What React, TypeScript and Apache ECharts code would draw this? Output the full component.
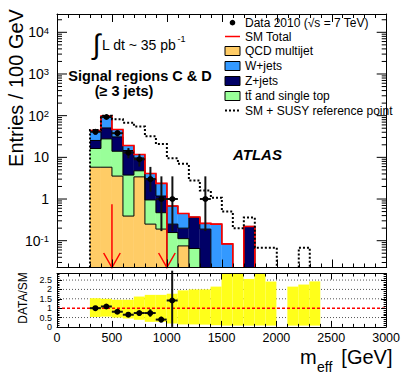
import React, { useEffect, useRef } from "react";
import * as echarts from "echarts";

// ---------------- data ----------------
const BIN_WIDTH = 100; // GeV
const SM_BIN_LO = [300, 400, 500, 600, 700, 800, 900, 1000, 1100, 1200, 1300, 1400, 1500, 1600, 1700];
const QCD_MULTIJET = [5.8, 5.8, 3.55, 0.39, 3.4, 0.25, 0.19, 0, 0.075, 0, 0, 0, 0, 0, 0];
const TTBAR_SINGLE_TOP = [10.5, 21.9, 10.45, 3.36, 1.35, 0.7, 0.28, 0.157, 0.037, 0.065, 0, 0, 0, 0, 0];
const Z_JETS = [9.1, 23.1, 17, 10.85, 4.95, 2.11, 0.71, 0.093, 0.088, 0.295, 0.19, 0, 0, 0, 0.22];
const W_JETS = [18.6, 47.2, 15.5, 4.6, 2.0, 1.04, 1.19, 0.43, 0.25, 0.01, 0.07, 0.25, 0.084, 0, 0];

const SUSY_BIN_LO = [300, 400, 500, 600, 700, 800, 900, 1000, 1100, 1200, 1300, 1400, 1500, 1600, 1700, 1800, 1900, 2000, 2100, 2200];
const SM_PLUS_SUSY = [45, 100, 82, 68, 55, 32, 21, 9.5, 7, 2.8, 1.6, 1.07, 0.5, 0.2, 0.36, 0.068, 0.068, 0, 0, 0.068];

const DATA_X = [350, 450, 550, 650, 750, 850, 950, 1050, 1350];
const DATA_Y = [41, 93, 38, 13, 9, 3, 1, 1, 1];
const DATA_LO = [35, 83, 32, 9.5, 6, 1.5, 0.17, 0.17, 0.17];
const DATA_HI = [47, 103, 45, 16.8, 12, 5.9, 3.5, 3.5, 3.5];

const CUT_ARROWS_X = [500, 1000];
const CUT_ARROW_TOP = 0.75;

const RATIO_X = [350, 450, 550, 650, 750, 850, 950, 1050];
const RATIO = [1.0, 1.09, 0.81, 0.65, 0.74, 0.74, 0.39, 1.41];
const RATIO_LO = [0.94, 1.04, 0.74, 0.55, 0.64, 0.54, 0.24, 0];
const RATIO_HI = [1.06, 1.14, 0.88, 0.75, 0.84, 0.94, 0.54, 3.0];

const BAND_BIN_LO = [300, 400, 500, 600, 700, 800, 900, 1000, 1100, 1200, 1300, 1400, 1500, 1600, 1700, 1800, 1900, 2000, 2100, 2200, 2300];
const BAND_HIGH = [1.53, 1.5, 1.45, 1.45, 1.62, 1.71, 1.71, 1.77, 1.95, 2.0, 2.0, 2.15, 3.0, 3.0, 2.56, 3.0, 2.42, null, 2.15, 2.26, 2.43];
const BAND_LOW = [0.53, 0.55, 0.5, 0.45, 0.38, 0.27, 0.27, 0.18, 0.13, 0.13, 0.12, 0.09, 0.07, 0.07, 0.07, 0.07, 0.07, null, 0.07, 0.07, 0.07];

const RATIO_TICK_LABELS = [0, 0.5, 1, 1.5, 2, 2.5];
const RATIO_GRID_LINES = [0.5, 1.5, 2, 2.5];
const RATIO_REF = 1;
const LOG_DECADES = [-2, -1, 0, 1, 2, 3, 4];

// ---------------- axes ranges / styles ----------------
const X_MIN = 0;
const X_MAX = 3000;
const Y_MIN = 0.02275;
const Y_MAX = 27500;
const R_MIN = 0;
const R_MAX = 2.85;

const FONT = "'Liberation Sans', Arial, Helvetica, sans-serif";
const COL_QCD = "#ffcc66";
const COL_TT = "#99ff99";
const COL_Z = "#000066";
const COL_W = "#3399ff";
const COL_RED = "#ff0000";

const COMPONENTS = [
  { values: QCD_MULTIJET, color: COL_QCD },
  { values: TTBAR_SINGLE_TOP, color: COL_TT },
  { values: Z_JETS, color: COL_Z },
  { values: W_JETS, color: COL_W },
];

function cumulative(levels: number): number[] {
  return SM_BIN_LO.map((_, i) => {
    let s = 0;
    for (let c = 0; c < levels; c++) s += COMPONENTS[c].values[i];
    return s;
  });
}

function stepSegments(los: number[], vals: (number | null)[], floor: number, startAtFloor: boolean): number[][][] {
  const segs: number[][][] = [];
  let cur: number[][] | null = null;
  for (let i = 0; i < los.length; i++) {
    const lo = los[i];
    const hi = lo + BIN_WIDTH;
    const v = vals[i] as number;
    if (v != null && v > floor) {
      if (!cur) {
        cur = [];
        if (i > 0 || startAtFloor) cur.push([lo, floor]);
      }
      cur.push([lo, v], [hi, v]);
    } else if (cur) {
      cur.push([lo, floor]);
      segs.push(cur);
      cur = null;
    }
  }
  if (cur) {
    cur.push([los[los.length - 1] + BIN_WIDTH, floor]);
    segs.push(cur);
  }
  return segs;
}

function polylineSeries(segs: number[][][], style: any, z: number) {
  return {
    type: "custom",
    xAxisIndex: 0,
    yAxisIndex: 0,
    silent: true,
    z,
    data: [[X_MIN, 1]],
    renderItem: (_p: any, api: any) => ({
      type: "group",
      children: segs.map((seg) => ({
        type: "polyline",
        shape: { points: seg.map((pt) => api.coord(pt)) },
        style: { fill: "none", ...style },
      })),
    }),
  };
}

function buildOption() {
  const xAxisBase = (gridIndex: number, position: string, showLabel: boolean, major: number, minor: number) => ({
    type: "value",
    gridIndex,
    position,
    min: X_MIN,
    max: X_MAX,
    interval: 500,
    z: 10,
    axisLine: { show: true, onZero: false, lineStyle: { color: "#000", width: 1 } },
    axisTick: { show: true, inside: true, length: major, lineStyle: { color: "#000", width: 1 } },
    minorTick: { show: true, splitNumber: 5, length: minor, lineStyle: { color: "#000", width: 1 } },
    axisLabel: {
      show: showLabel,
      showMinLabel: true,
      showMaxLabel: true,
      color: "#000",
      fontSize: 12.5,
      margin: 5,
      fontFamily: FONT,
      formatter: (v: number) => String(v),
    },
    splitLine: { show: false },
    minorSplitLine: { show: false },
  });

  const logAxis = (position: string, showLabel: boolean) => ({
    type: "log",
    logBase: 10,
    gridIndex: 0,
    position,
    min: Y_MIN,
    max: Y_MAX,
    z: 10,
    axisLine: { show: true, onZero: false, lineStyle: { color: "#000", width: 1 } },
    axisTick: { show: false },
    splitLine: { show: false },
    axisLabel: {
      show: showLabel,
      showMinLabel: false,
      showMaxLabel: false,
      margin: 8,
      color: "#000",
      fontSize: 14,
      fontFamily: FONT,
      formatter: (v: number) => {
        const l = Math.log10(v);
        const e = Math.round(l);
        if (Math.abs(l - e) > 1e-6) return "";
        if (e === 0) return "1";
        if (e === 1) return "10";
        return `{b|10}{s|${e}}`;
      },
      rich: {
        b: { fontSize: 14, color: "#000", fontFamily: FONT },
        s: { fontSize: 9.5, color: "#000", fontFamily: FONT, verticalAlign: "top" },
      },
    },
  });

  const ratioAxis = (position: string) => ({
    type: "value",
    gridIndex: 1,
    position,
    min: R_MIN,
    max: R_MAX,
    interval: 0.5,
    z: 10,
    axisLine: { show: true, onZero: false, lineStyle: { color: "#000", width: 1 } },
    axisTick: { show: true, inside: true, length: 5, lineStyle: { color: "#000", width: 1 } },
    minorTick: { show: true, splitNumber: 5, length: 2.5, lineStyle: { color: "#000", width: 1 } },
    splitLine: { show: false },
    axisLabel: { show: false },
  });

  const total = cumulative(4);
  const series: any[] = [];

  // stacked fills
  series.push({
    type: "custom",
    xAxisIndex: 0,
    yAxisIndex: 0,
    silent: true,
    z: 2,
    data: SM_BIN_LO.map((lo) => [lo, 1]),
    renderItem: (params: any, api: any) => {
      const i = params.dataIndex;
      const lo = SM_BIN_LO[i];
      const hi = lo + BIN_WIDTH;
      let base = 0;
      const children: any[] = [];
      COMPONENTS.forEach((c) => {
        const v = c.values[i];
        if (v > 0) {
          const top = base + v;
          const p0 = api.coord([lo, Math.max(base, Y_MIN)]);
          const p1 = api.coord([hi, Math.max(top, Y_MIN)]);
          children.push({
            type: "rect",
            shape: { x: p0[0], y: p1[1], width: p1[0] - p0[0], height: p0[1] - p1[1] },
            style: { fill: c.color },
          });
        }
        base += v;
      });
      return { type: "group", children };
    },
  });

  // black outlines of each cumulative level
  for (let lv = 1; lv <= 4; lv++) {
    series.push(polylineSeries(stepSegments(SM_BIN_LO, cumulative(lv), Y_MIN, false), { stroke: "#000", lineWidth: 1 }, 3));
  }
  // SM total (red)
  series.push(polylineSeries(stepSegments(SM_BIN_LO, total, Y_MIN, false), { stroke: COL_RED, lineWidth: 1.6 }, 4));
  // SM + SUSY (dotted)
  series.push(
    polylineSeries(stepSegments(SUSY_BIN_LO, SM_PLUS_SUSY, Y_MIN, true), { stroke: "#000", lineWidth: 2, lineDash: [2, 2] }, 5)
  );

  // cut arrows
  series.push({
    type: "custom",
    xAxisIndex: 0,
    yAxisIndex: 0,
    silent: true,
    z: 6,
    data: CUT_ARROWS_X.map((x) => [x, CUT_ARROW_TOP]),
    renderItem: (_p: any, api: any) => {
      const x = api.value(0);
      const t = api.coord([x, api.value(1)]);
      const b = api.coord([x, Y_MIN]);
      const st = { stroke: COL_RED, lineWidth: 1.5, fill: "none" };
      return {
        type: "group",
        children: [
          { type: "line", shape: { x1: t[0], y1: t[1], x2: b[0], y2: b[1] }, style: st },
          { type: "polyline", shape: { points: [[b[0] - 8.3, b[1] - 14.5], [b[0], b[1]], [b[0] + 8.3, b[1] - 14.5]] }, style: st },
        ],
      };
    },
  });

  // data points
  series.push({
    type: "custom",
    xAxisIndex: 0,
    yAxisIndex: 0,
    silent: true,
    z: 7,
    data: DATA_X.map((x, i) => [x, DATA_Y[i]]),
    renderItem: (params: any, api: any) => {
      const i = params.dataIndex;
      const x = api.value(0);
      const y = api.value(1);
      const c = api.coord([x, y]);
      const l = api.coord([x - BIN_WIDTH / 2, y]);
      const r = api.coord([x + BIN_WIDTH / 2, y]);
      const lo = api.coord([x, Math.max(DATA_LO[i], Y_MIN)]);
      const hi = api.coord([x, DATA_HI[i]]);
      const st = { stroke: "#111", lineWidth: 2 };
      return {
        type: "group",
        children: [
          { type: "line", shape: { x1: l[0], y1: c[1], x2: r[0], y2: c[1] }, style: st },
          { type: "line", shape: { x1: c[0], y1: lo[1], x2: c[0], y2: hi[1] }, style: st },
          { type: "circle", shape: { cx: c[0], cy: c[1], r: 3 }, style: { fill: "#000" } },
        ],
      };
    },
  });

  // log-axis ticks (left & right)
  series.push({
    type: "custom",
    xAxisIndex: 0,
    yAxisIndex: 0,
    silent: true,
    z: 8,
    data: [[X_MIN, 1]],
    renderItem: (_p: any, api: any) => {
      const children: any[] = [];
      const xl = api.coord([X_MIN, 1])[0];
      const xr = api.coord([X_MAX, 1])[0];
      LOG_DECADES.forEach((d) => {
        for (let k = 1; k <= 9; k++) {
          const v = k * Math.pow(10, d);
          if (v < Y_MIN || v > Y_MAX) continue;
          const y = api.coord([X_MIN, v])[1];
          const len = k === 1 ? 10 : 5;
          children.push({ type: "line", shape: { x1: xl, y1: y, x2: xl + len, y2: y }, style: { stroke: "#000", lineWidth: 1 } });
          children.push({ type: "line", shape: { x1: xr, y1: y, x2: xr - len, y2: y }, style: { stroke: "#000", lineWidth: 1 } });
        }
      });
      return { type: "group", children };
    },
  });

  // ratio: dotted grid lines
  series.push({
    type: "custom",
    xAxisIndex: 2,
    yAxisIndex: 2,
    silent: true,
    z: 1,
    data: RATIO_GRID_LINES.map((v) => [X_MIN, v]),
    renderItem: (_p: any, api: any) => {
      const a = api.coord([X_MIN, api.value(1)]);
      const b = api.coord([X_MAX, api.value(1)]);
      return { type: "line", shape: { x1: a[0], y1: a[1], x2: b[0], y2: b[1] }, style: { stroke: "#555", lineWidth: 1, lineDash: [1, 2] } };
    },
  });

  // ratio: y tick labels (placed through the ratio axis scale)
  series.push({
    type: "custom",
    xAxisIndex: 2,
    yAxisIndex: 2,
    silent: true,
    z: 20,
    clip: false,
    data: RATIO_TICK_LABELS.map((v) => [X_MIN, v]),
    renderItem: (_p: any, api: any) => {
      const p = api.coord([X_MIN, api.value(1)]);
      return {
        type: "text",
        x: p[0] - 5,
        y: p[1],
        style: {
          text: String(api.value(1)),
          fill: "#000",
          fontSize: 9,
          fontFamily: FONT,
          align: "right",
          verticalAlign: "middle",
        },
      };
    },
  });

  // ratio: yellow band
  series.push({
    type: "custom",
    xAxisIndex: 2,
    yAxisIndex: 2,
    silent: true,
    z: 2,
    data: BAND_BIN_LO.map((lo) => [lo, 1]),
    renderItem: (params: any, api: any) => {
      const i = params.dataIndex;
      const hiV = BAND_HIGH[i];
      const loV = BAND_LOW[i];
      if (hiV == null || loV == null) return { type: "group", children: [] };
      const lo = BAND_BIN_LO[i];
      const p0 = api.coord([lo, Math.max(loV, R_MIN)]);
      const p1 = api.coord([lo + BIN_WIDTH, Math.min(hiV, R_MAX)]);
      return {
        type: "rect",
        shape: { x: p0[0], y: p1[1], width: p1[0] - p0[0], height: p0[1] - p1[1] },
        style: { fill: "#ffff1a" },
      };
    },
  });

  // ratio: reference line at 1
  series.push({
    type: "custom",
    xAxisIndex: 2,
    yAxisIndex: 2,
    silent: true,
    z: 3,
    data: [[X_MIN, RATIO_REF]],
    renderItem: (_p: any, api: any) => {
      const a = api.coord([X_MIN, api.value(1)]);
      const b = api.coord([X_MAX, api.value(1)]);
      return { type: "line", shape: { x1: a[0], y1: a[1], x2: b[0], y2: b[1] }, style: { stroke: COL_RED, lineWidth: 1.5, lineDash: [3, 2] } };
    },
  });

  // ratio points
  series.push({
    type: "custom",
    xAxisIndex: 2,
    yAxisIndex: 2,
    silent: true,
    z: 4,
    data: RATIO_X.map((x, i) => [x, RATIO[i]]),
    renderItem: (params: any, api: any) => {
      const i = params.dataIndex;
      const x = api.value(0);
      const y = api.value(1);
      const c = api.coord([x, y]);
      const l = api.coord([x - BIN_WIDTH / 2, y]);
      const r = api.coord([x + BIN_WIDTH / 2, y]);
      const lo = api.coord([x, RATIO_LO[i]]);
      const hi = api.coord([x, RATIO_HI[i]]);
      const st = { stroke: "#111", lineWidth: 2 };
      return {
        type: "group",
        children: [
          { type: "line", shape: { x1: l[0], y1: c[1], x2: r[0], y2: c[1] }, style: st },
          { type: "line", shape: { x1: c[0], y1: lo[1], x2: c[0], y2: hi[1] }, style: st },
          { type: "circle", shape: { cx: c[0], cy: c[1], r: 3 }, style: { fill: "#000" } },
        ],
      };
    },
  });

  const txt = (text: string, x: number, y: number, extra: any = {}, elExtra: any = {}) => ({
    type: "text",
    x,
    y,
    silent: true,
    z: 20,
    ...elExtra,
    style: { text, fill: "#000", fontFamily: FONT, fontSize: 12, align: "left", verticalAlign: "middle", ...extra },
  });

  const legendBox = (y: number, color: string) => ({
    type: "rect",
    silent: true,
    z: 20,
    shape: { x: 225, y: y - 4.5, width: 15, height: 9 },
    style: { fill: color, stroke: "#000", lineWidth: 1 },
  });

  const graphic: any[] = [
    // axis titles
    txt("Entries / 100 GeV", 16, 88, { fontSize: 20, align: "center" }, { rotation: Math.PI / 2 }),
    txt("DATA/SM", 23, 298, { fontSize: 12, align: "center" }, { rotation: Math.PI / 2 }),
    txt("m", 300, 356.5, { fontSize: 20 }),
    txt("eff", 317, 366.5, { fontSize: 14 }),
    txt("[GeV]", 392.5, 356.5, { fontSize: 20, align: "right" }),
    // annotations
    txt("\u222B", 96.5, 44, { fontSize: 28, align: "center" }),
    txt("L dt ~ 35 pb", 102, 45, { fontSize: 14 }),
    txt("-1", 177.5, 38.5, { fontSize: 9 }),
    txt("Signal regions C & D", 140, 76, { fontSize: 14.5, fontWeight: "bold", align: "center" }),
    txt("(\u2265 3 jets)", 124, 90.5, { fontSize: 14.5, fontWeight: "bold", align: "center" }),
    txt("ATLAS", 233, 154, { fontSize: 15, fontWeight: "bold", fontStyle: "italic" }),
    // legend
    { type: "circle", silent: true, z: 20, shape: { cx: 232.5, cy: 22.7, r: 2.8 }, style: { fill: "#000" } },
    txt("Data 2010 (\u221As = 7 TeV)", 245, 22.7),
    { type: "line", silent: true, z: 20, shape: { x1: 225, y1: 36.5, x2: 240, y2: 36.5 }, style: { stroke: COL_RED, lineWidth: 1.5 } },
    txt("SM Total", 245, 36.5),
    legendBox(51, COL_QCD),
    txt("QCD multijet", 245, 51),
    legendBox(66, COL_W),
    txt("W+jets", 245, 66),
    legendBox(81, COL_Z),
    txt("Z+jets", 245, 81),
    legendBox(96, COL_TT),
    txt("tt\u0304 and single top", 245, 96),
    { type: "line", silent: true, z: 20, shape: { x1: 225, y1: 110.5, x2: 240, y2: 110.5 }, style: { stroke: "#000", lineWidth: 2, lineDash: [2, 2] } },
    txt("SM + SUSY reference point", 245, 110.5),
  ];

  return {
    animation: false,
    backgroundColor: "#fff",
    textStyle: { fontFamily: FONT },
    grid: [
      { left: 57, top: 14, width: 329.7, height: 253.5, show: false },
      { left: 57, top: 273.5, width: 329.7, height: 53.4, show: false },
    ],
    xAxis: [
      xAxisBase(0, "bottom", false, 8, 4),
      xAxisBase(0, "top", false, 8, 4),
      xAxisBase(1, "bottom", true, 6, 3),
      xAxisBase(1, "top", false, 6, 3),
    ],
    yAxis: [logAxis("left", true), logAxis("right", false), ratioAxis("left"), ratioAxis("right")],
    series,
    graphic,
  };
}

export default function App() {
  const ref = useRef<HTMLDivElement>(null);
  useEffect(() => {
    if (!ref.current) return;
    const chart = echarts.init(ref.current, null, { renderer: "svg" });
    chart.setOption(buildOption() as any);
    return () => chart.dispose();
  }, []);
  return <div ref={ref} style={{ position: "absolute", left: 0, top: 0, width: 403, height: 373 }} />;
}
